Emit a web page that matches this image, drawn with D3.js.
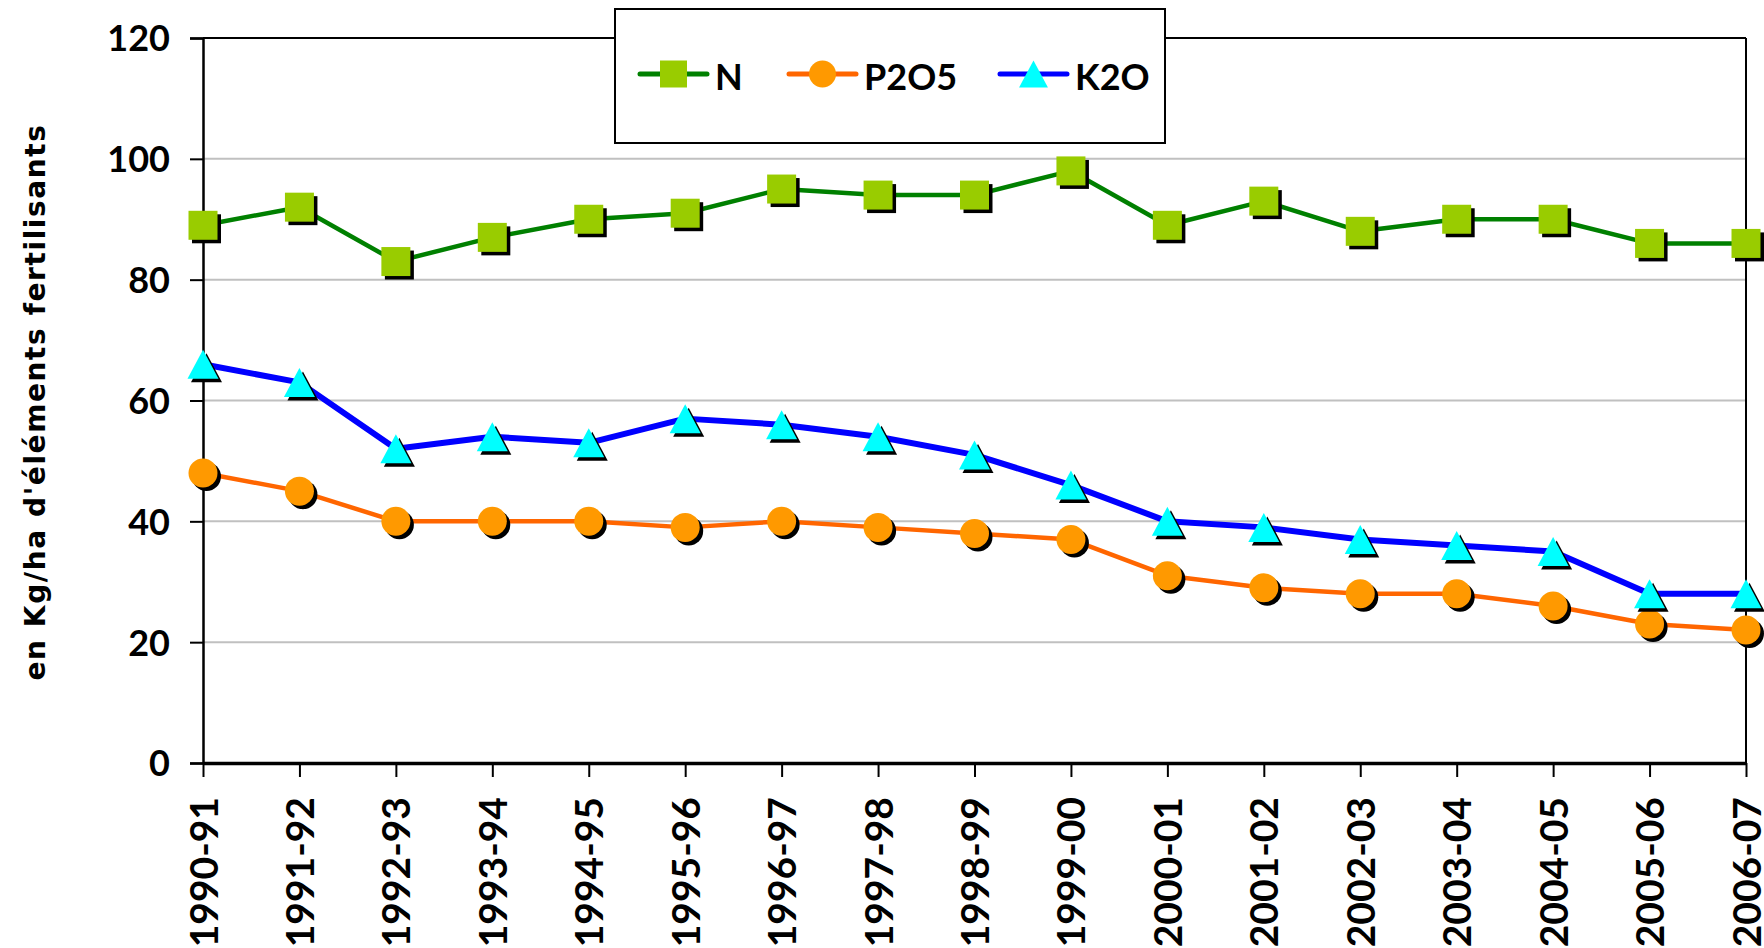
<!DOCTYPE html>
<html><head><meta charset="utf-8">
<script src="https://cdn.jsdelivr.net/npm/d3@7"></script>
<style>body{margin:0;background:#fff} svg{display:block}</style>
</head><body><svg id="c" width="1764" height="948"></svg>
<script>
const categories = ["1990-91","1991-92","1992-93","1993-94","1994-95","1995-96","1996-97","1997-98","1998-99","1999-00","2000-01","2001-02","2002-03","2003-04","2004-05","2005-06","2006-07"];
const nValues    = [89, 92, 83, 87, 90, 91, 95, 94, 94, 98, 89, 93, 88, 90, 90, 86, 86];
const p2o5Values = [48, 45, 40, 40, 40, 39, 40, 39, 38, 37, 31, 29, 28, 28, 26, 23, 22];
const k2oValues  = [66, 63, 52, 54, 53, 57, 56, 54, 51, 46, 40, 39, 37, 36, 35, 28, 28];
const yTicks = [0, 20, 40, 60, 80, 100, 120];
const seriesNames = ["N", "P2O5", "K2O"];
const yTitle = "en Kg/ha d'éléments fertilisants";

const series = [
  {name: seriesNames[0], values: nValues,    line: "#008000", fill: "#99CC00", shape: "square",   lw: 4.5},
  {name: seriesNames[1], values: p2o5Values, line: "#FF6600", fill: "#FF9900", shape: "circle",   lw: 4.5},
  {name: seriesNames[2], values: k2oValues,  line: "#0000FF", fill: "#00FFFF", shape: "triangle", lw: 6}
];

const W = 1764, H = 948;
const L = 203, R = 1746, T = 38, B = 763;
const svg = d3.select("#c");
const FONT = "Lato, 'DejaVu Sans', sans-serif";

const x = d3.scalePoint().domain(categories).range([L, R]).padding(0);
const y = d3.scaleLinear().domain([0, 120]).range([B, T]);

// custom triangle (bbox-centred)
const tri = {draw(ctx, size) {
  const w = Math.sqrt(size) * 1.07, h = Math.sqrt(size);
  ctx.moveTo(0, -h / 2); ctx.lineTo(w / 2, h / 2); ctx.lineTo(-w / 2, h / 2); ctx.closePath();
}};
function symFor(shape, s) {
  if (shape === "square") return d3.symbol().type(d3.symbolSquare).size(s * s)();
  if (shape === "circle") return d3.symbol().type(d3.symbolCircle).size(Math.PI * (s / 2) * (s / 2))();
  return d3.symbol().type(tri).size(s * s)();
}

// gridlines
svg.append("g").selectAll("line").data(yTicks.filter(d => d > 0 && d < 120)).join("line")
  .attr("x1", L).attr("x2", R).attr("y1", d => y(d)).attr("y2", d => y(d))
  .attr("stroke", "#c0c0c0").attr("stroke-width", 2);

// plot border top/right
svg.append("line").attr("x1", L).attr("x2", R).attr("y1", y(120)).attr("y2", y(120)).attr("stroke", "#000").attr("stroke-width", 2);
svg.append("line").attr("x1", R).attr("x2", R).attr("y1", T).attr("y2", B).attr("stroke", "#000").attr("stroke-width", 2);

// y axis
const ya = svg.append("g").attr("transform", `translate(${L},0)`)
  .call(d3.axisLeft(y).tickValues(yTicks).tickSize(13).tickPadding(20).tickFormat(d3.format("d")));
ya.select(".domain").attr("stroke", "#000").attr("stroke-width", 2.5);
ya.selectAll(".tick line").attr("stroke", "#000").attr("stroke-width", 2);
ya.selectAll("text").attr("font-family", FONT).attr("font-weight", "bold").attr("font-size", 36).attr("fill", "#000").attr("dy", "0.36em");

// x axis
const xa = svg.append("g").attr("transform", `translate(0,${B})`)
  .call(d3.axisBottom(x).tickSize(14).tickSizeOuter(0));
xa.select(".domain").attr("stroke", "#000").attr("stroke-width", 3.5);
xa.selectAll(".tick line").attr("stroke", "#000").attr("stroke-width", 2);
xa.selectAll("text").attr("font-family", FONT).attr("font-weight", "bold").attr("font-size", 39).attr("fill", "#000")
  .attr("text-anchor", "end").attr("transform", "translate(0,34) rotate(-90)").attr("x", 0).attr("y", 0).attr("dy", "0.36em");

// y title
svg.append("text").attr("transform", `translate(45,402) rotate(-90)`)
  .attr("text-anchor", "middle").attr("font-family", "'DejaVu Sans', sans-serif").attr("font-weight", "bold")
  .attr("font-size", 28).attr("letter-spacing", 1.6).text(yTitle);

// series
const lineGen = d3.line().x((d, i) => x(categories[i])).y(d => y(d));
const MS = 29;
series.forEach(s => {
  const g = svg.append("g");
  g.append("path").attr("d", lineGen(s.values)).attr("fill", "none").attr("stroke", s.line)
    .attr("stroke-width", s.lw).attr("stroke-linejoin", "round");
  const pts = s.values.map((v, i) => [x(categories[i]), y(v)]);
  g.selectAll(".sh").data(pts).join("path").attr("class", "sh")
    .attr("d", symFor(s.shape, MS)).attr("transform", d => `translate(${d[0] + 3.5},${d[1] + 3.5})`).attr("fill", "#000");
  g.selectAll(".mk").data(pts).join("path").attr("class", "mk")
    .attr("d", symFor(s.shape, MS)).attr("transform", d => `translate(${d[0]},${d[1]})`).attr("fill", s.fill);
});

// legend
const lg = svg.append("g");
lg.append("rect").attr("x", 615).attr("y", 9).attr("width", 550).attr("height", 134)
  .attr("fill", "#fff").attr("stroke", "#000").attr("stroke-width", 2);
const legPos = [640, 789, 1000];
series.forEach((s, i) => {
  const x0 = legPos[i], cy = 74;
  lg.append("line").attr("x1", x0).attr("x2", x0 + 67).attr("y1", cy).attr("y2", cy)
    .attr("stroke", s.line).attr("stroke-width", 5).attr("stroke-linecap", "round");
  lg.append("path").attr("d", symFor(s.shape, 27)).attr("transform", `translate(${x0 + 33.5},${cy})`).attr("fill", s.fill);
  lg.append("text").attr("x", x0 + 75).attr("y", 90).attr("font-family", FONT).attr("font-weight", "bold")
    .attr("font-size", 36).text(s.name);
});
</script></body></html>
